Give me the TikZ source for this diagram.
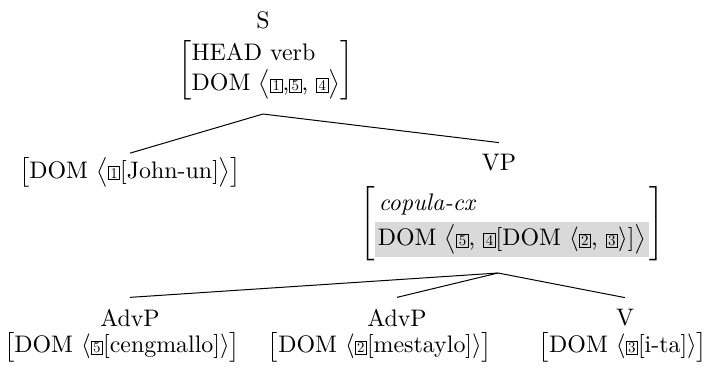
\documentclass[tikz,border=0pt]{standalone}
\usepackage{xcolor}
\usepackage{amsmath}
\usepackage{fontspec}
% the 10pt design of Latin Modern, scaled up
\setmainfont{lmroman10}[Extension=.otf, UprightFont=*-regular,
  ItalicFont=*-italic, BoldFont=*-bold]
% boxed tag numbers
\newcommand\tg[1]{{\setlength\fboxsep{1.3pt}\setlength\fboxrule{0.8pt}\fbox{\fontsize{15}{15}\selectfont\makebox[0.55em]{#1}}}}
% attribute-value matrix in square brackets
\newcommand\avm[1]{$\left[\begin{tabular}{@{}l@{}}#1\end{tabular}\right]$}

\begin{document}
\begin{tikzpicture}[x=1bp,y=-1bp,
  every node/.style={font=\fontsize{24}{29}\selectfont, inner sep=0pt},
  cat/.style={outer ysep=12pt},
  edge/.style={line width=1pt}]
\useasboundingbox (0,0) rectangle (711,374);

% root
\node (S) at (263,20) {S};
\node (Savm) at (266,70) {\avm{HEAD verb\\ DOM $\big\langle$\tg1,\tg5, \tg4$\big\rangle$\hspace{6pt}}};
\coordinate (Sroot) at (263,114);

% subject daughter
\node[outer ysep=4pt] (john) at (130,172) {\avm{DOM $\big\langle$\tg1[John-un]$\big\rangle$}};

% VP daughter
\node[cat] (VP) at (499,163) {VP};
\node (VPavm) at (512,224) {\avm{\hspace{4pt}\textit{copula-cx}\\[2pt] \colorbox{gray!30}{DOM $\big\langle$\tg5, \tg4[DOM $\langle$\tg2, \tg3$\rangle$]$\big\rangle$}}};
\coordinate (VProot) at (498,273);

% lower daughters
\node[cat] (adv1) at (130,318) {AdvP};
\node (adv1avm) at (122,347) {\avm{DOM $\langle$\tg5[cengmallo]$\rangle$}};
\node[cat] (adv2) at (397,318) {AdvP};
\node (adv2avm) at (380,347) {\avm{DOM $\langle$\tg2[mestaylo]$\rangle$}};
\node[cat] (v) at (625,318) {V};
\node (vavm) at (623,347) {\avm{DOM $\langle$\tg3[i-ta]$\rangle$}};

% branches
\draw[edge] (john.north) -- (Sroot) -- (VP.north);
\draw[edge] (adv1.north) -- (VProot) -- (v.north);
\draw[edge] (VProot) -- (adv2.north);
\end{tikzpicture}
\end{document}
